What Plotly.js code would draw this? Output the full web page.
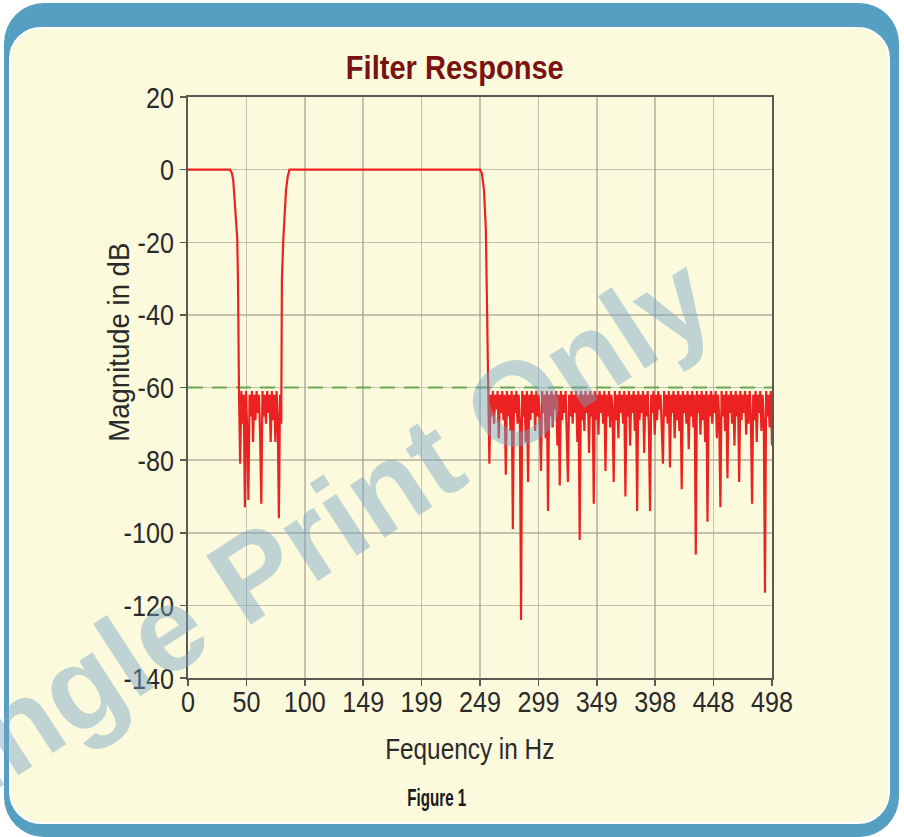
<!DOCTYPE html>
<html>
<head>
<meta charset="utf-8">
<script src="https://cdn.plot.ly/plotly-3.0.1.min.js"></script>
<style>
  html, body { margin:0; padding:0; background:#ffffff; width:904px; height:837px; overflow:hidden; }
  #frame { position:absolute; left:4px; top:3px; width:895px; height:834px; background:#559fc2; border-radius:40px; }
  #panel { position:absolute; left:9px; top:27px; width:877px; height:793px; background:#fcfadc; border:2px solid #ffffff; border-radius:32px; }
  #chart { position:absolute; left:0; top:0; width:904px; height:837px; }
</style>
</head>
<body>
<div id="frame"></div>
<div id="panel"></div>
<div id="chart"></div>
<script>
// ---------------- DATA ----------------
const xTickVals = [0, 49.8, 99.6, 149.4, 199.2, 249, 298.8, 348.6, 398.4, 448.2, 498];
const xTickText = ["0", "50", "100", "149", "199", "249", "299", "349", "398", "448", "498"];
const yTickVals = [20, 0, -20, -40, -60, -80, -100, -120, -140];
const yTickText = ["20", "0", "-20", "-40", "-60", "-80", "-100", "-120", "-140"];

// low passband + first falling edge
const edgeLowHz = [0, 10, 20, 30, 35.8, 37.5, 38.6, 40.1, 42.0, 42.6, 43.0];
const edgeLowDb = [0, 0, 0, 0, 0, -1, -3, -10, -19, -30, -50];

// first stopband, samples every 1 Hz from 43.5 Hz
const stopLowStartHz = 43.5;
const stopLowDb = [
  -62, -81, -61, -70, -62, -93, -61, -72, -91, -62,
  -68, -61, -75, -62, -69, -61, -67, -62, -73, -92,
  -61, -68, -62, -70, -61, -67, -62, -75, -61, -69,
  -62, -75, -61, -68, -96, -62, -70
];

// rising edge, second passband, falling edge
const midHz = [79.8, 80.1, 81.3, 82.6, 83.6, 85.0, 86.5, 100, 150, 200, 249.0, 250.6, 252.4, 254.0, 254.7, 255.3];
const midDb = [-50, -30, -19, -10, -5.6, -2, 0, 0, 0, 0, 0, -1, -5.6, -16.5, -30, -50];

// second stopband, samples every 1 Hz from 256 Hz
const stopHighStartHz = 256;
const stopHighDb = [
  -60.5, -81, -62, -68, -61, -70, -62, -66, -61, -74,
  -62, -67, -61, -69, -62, -84, -61, -68, -62, -72,
  -61, -99, -62, -67, -61, -70, -62, -69, -124, -61,
  -68, -62, -75, -61, -86, -62, -69, -61, -67, -62,
  -72, -61, -68, -62, -70, -83, -61, -67, -62, -74,
  -61, -94, -62, -68, -61, -71, -62, -66, -61, -76,
  -62, -87, -61, -69, -62, -67, -61, -73, -86, -62,
  -68, -61, -70, -62, -67, -61, -75, -62, -102, -61,
  -69, -62, -72, -61, -67, -62, -78, -61, -68, -62,
  -92, -61, -69, -62, -73, -61, -67, -62, -70, -61,
  -83, -62, -68, -61, -71, -62, -66, -86, -61, -69,
  -62, -74, -61, -67, -62, -70, -61, -90, -62, -68,
  -61, -76, -62, -67, -61, -72, -62, -94, -61, -69,
  -62, -67, -61, -78, -62, -68, -61, -71, -94, -62,
  -67, -61, -73, -62, -69, -61, -66, -62, -75, -81,
  -61, -68, -62, -70, -61, -82, -62, -67, -61, -74,
  -62, -69, -61, -72, -62, -88, -61, -67, -62, -70,
  -61, -77, -62, -68, -61, -71, -62, -106, -61, -67,
  -62, -73, -61, -69, -62, -75, -61, -97, -62, -68,
  -61, -70, -62, -67, -61, -74, -62, -69, -93, -61,
  -68, -62, -72, -61, -85, -62, -67, -61, -70, -62,
  -76, -61, -68, -62, -86, -61, -69, -62, -67, -61,
  -73, -62, -70, -61, -68, -92, -62, -69, -61, -75,
  -62, -67, -61, -72, -62, -69, -116.5, -61, -68, -62,
  -71, -61, -76
];

const thresholdHz = [0, 498];
const thresholdDb = [-60, -60];

// ---------------- BUILD TRACES ----------------
const respHz = [], respDb = [];
edgeLowHz.forEach((f, i) => { respHz.push(f); respDb.push(edgeLowDb[i]); });
stopLowDb.forEach((d, i) => { respHz.push(stopLowStartHz + i); respDb.push(d); });
midHz.forEach((f, i) => { respHz.push(f); respDb.push(midDb[i]); });
stopHighDb.forEach((d, i) => { respHz.push(stopHighStartHz + i); respDb.push(d); });

const L = 188, R = 772, T = 97, B = 678;
const px = x => (x - L) / (R - L);
const py = y => (B - y) / (B - T);

const sans = '"Liberation Sans", Arial, Helvetica, sans-serif';

const traces = [
  { x: thresholdHz, y: thresholdDb, type: 'scatter', mode: 'lines',
    line: { color: '#6aa653', width: 2, dash: '15px,9px' }, hoverinfo: 'skip' },
  { x: respHz, y: respDb, type: 'scatter', mode: 'lines',
    line: { color: '#ec2222', width: 2.2 }, hoverinfo: 'skip' }
];

const axisCommon = {
  showgrid: true, gridcolor: 'rgba(160,155,145,0.6)', gridwidth: 1.5,
  showline: true, linecolor: '#5b5752', linewidth: 2, mirror: true,
  ticks: 'outside', ticklen: 6, tickwidth: 1.5, tickcolor: '#5b5752',
  zeroline: false, fixedrange: true,
  tickfont: { family: sans, size: 30, color: '#2a2a2a' }
};

const layout = {
  width: 904, height: 837,
  margin: { l: L, r: 904 - R, t: T, b: 837 - B, pad: 0 },
  paper_bgcolor: 'rgba(0,0,0,0)', plot_bgcolor: 'rgba(0,0,0,0)',
  showlegend: false,
  xaxis: Object.assign({}, axisCommon, { range: [0, 498], tickmode: 'array', tickvals: xTickVals, ticktext: xTickText }),
  yaxis: Object.assign({}, axisCommon, { range: [-140, 20], tickmode: 'array', tickvals: yTickVals, ticktext: yTickText }),
  annotations: [
    { text: '<b>Filter Response</b>', xref: 'paper', yref: 'paper', x: px(455), y: py(68),
      xanchor: 'center', yanchor: 'middle', showarrow: false,
      font: { family: sans, size: 33, color: '#7a1212' } },
    { text: 'Magnitude in dB', xref: 'paper', yref: 'paper', x: px(119), y: py(342),
      xanchor: 'center', yanchor: 'middle', showarrow: false, textangle: -90,
      font: { family: sans, size: 29, color: '#2a2a2a' } },
    { text: 'Fequency in Hz', xref: 'paper', yref: 'paper', x: px(470), y: py(749),
      xanchor: 'center', yanchor: 'middle', showarrow: false,
      font: { family: sans, size: 29, color: '#2a2a2a' } },
    { text: '<b>Figure 1</b>', xref: 'paper', yref: 'paper', x: px(437), y: py(798),
      xanchor: 'center', yanchor: 'middle', showarrow: false,
      font: { family: sans, size: 23, color: '#1a1a1a' } },
    { text: '<b>Single Print Only</b>', xref: 'paper', yref: 'paper', x: px(296), y: py(545),
      xanchor: 'center', yanchor: 'middle', showarrow: false, textangle: -33,
      font: { family: sans, size: 119, color: 'rgba(118,163,198,0.45)' } }
  ]
};

// horizontal squeeze (and optional vertical shift) to imitate the condensed typeface of the original
function squeeze(nodes, s, dy) {
  nodes.forEach(t => {
    const x = parseFloat(t.getAttribute('x')) || 0;
    const base = t.getAttribute('transform') || '';
    const shift = dy ? 'translate(0,' + dy + ') ' : '';
    t.setAttribute('transform', shift + base + ' translate(' + x + ',0) scale(' + s + ',1) translate(' + (-x) + ',0)');
  });
}

Plotly.newPlot('chart', traces, layout, { displayModeBar: false, staticPlot: true }).then(gd => {
  squeeze(gd.querySelectorAll('.xtick text'), 0.84, -10);
  squeeze(gd.querySelectorAll('.ytick text'), 0.84, 0);
  const ann = gd.querySelectorAll('.annotation-text');
  const scales = [0.88, 0.95, 0.84, 0.66, 1.0];
  ann.forEach((t, i) => { if (scales[i] !== 1) squeeze([t], scales[i], 0); });
});
</script>
</body>
</html>
